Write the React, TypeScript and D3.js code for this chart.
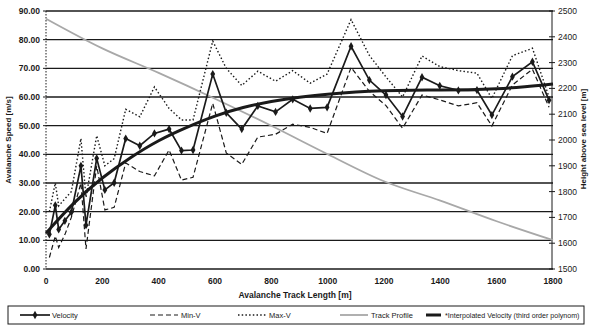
import React from 'react'
import * as d3 from 'd3'

const TRACK = [12, 33, 45, 67, 90, 124, 142, 180, 209, 242, 283, 333, 385, 437, 481, 522, 592, 640, 695, 752, 815, 876, 938, 998, 1083, 1148, 1207, 1266, 1335, 1398, 1464, 1530, 1583, 1656, 1727, 1786]
const VELOCITY = [12.1, 22.2, 13.8, 16.8, 19.8, 36.0, 15.3, 38.6, 27.6, 30.1, 45.5, 43.0, 47.3, 48.8, 41.3, 41.5, 68.0, 54.5, 48.8, 56.9, 54.8, 59.2, 56.0, 56.4, 77.7, 65.9, 60.7, 53.2, 66.9, 63.9, 62.3, 62.4, 53.7, 67.1, 72.3, 58.9]
const MIN_V = [4, 11.5, 7.5, 12, 18, 30, 7, 36, 20.6, 21.5, 37, 34, 32.5, 41.5, 31, 32, 57.8, 40.5, 36.5, 46, 47, 50.5, 49.4, 47.3, 70.3, 62, 57, 49.1, 60.7, 59, 56.9, 58, 49.9, 64.2, 69.7, 56.4]
const MAX_V = [20, 30, 22, 24.5, 27, 45.5, 25, 46.5, 36, 38.5, 55.7, 53.1, 63.5, 56, 52, 52, 79.5, 70, 64, 69, 65.5, 69.2, 64.8, 68, 87, 74.5, 67, 60, 74.3, 70.6, 69.2, 68.3, 59.5, 74.4, 77, 60]

const PROFILE_T = [0, 200, 400, 600, 800, 1000, 1200, 1400, 1600, 1800]
const PROFILE_H = [2470, 2355, 2260, 2160, 2055, 1945, 1840, 1765, 1685, 1612]

const POLY_T = [0, 100, 200, 300, 400, 500, 600, 700, 800, 900, 1000, 1100, 1200, 1300, 1400, 1500, 1600, 1700, 1800]
const POLY_V = [12.5, 23.5, 32, 39, 45, 49.5, 53.5, 56.5, 58.5, 60, 61, 61.8, 62.2, 62.4, 62.4, 62.5, 62.8, 63.5, 64.5]

const X_TICKS = [0, 200, 400, 600, 800, 1000, 1200, 1400, 1600, 1800]
const V_TICKS = [0, 10, 20, 30, 40, 50, 60, 70, 80, 90]
const H_TICKS = [1500, 1600, 1700, 1800, 1900, 2000, 2100, 2200, 2300, 2400, 2500]

const font = "'Liberation Sans', Arial, sans-serif"
const ink = '#1a1a1a'

export default function App() {
  const W = 590
  const H = 328
  const x = d3.scaleLinear().domain([0, 1800]).range([46, 553])
  const y = d3.scaleLinear().domain([0, 90]).range([269, 11])
  const yH = d3.scaleLinear().domain([1500, 2500]).range([269, 11])

  const idx = d3.range(TRACK.length)
  const velPath = d3.line<number>().x((i) => x(TRACK[i])).y((i) => y(VELOCITY[i]))(idx)
  const minPath = d3.line<number>().x((i) => x(TRACK[i])).y((i) => y(MIN_V[i]))(idx)
  const maxPath = d3.line<number>().x((i) => x(TRACK[i])).y((i) => y(MAX_V[i]))(idx)
  const profPath = d3.line<number>().x((i) => x(PROFILE_T[i])).y((i) => yH(PROFILE_H[i])).curve(d3.curveMonotoneX)(d3.range(PROFILE_T.length))
  const polyPath = d3.line<number>().x((i) => x(POLY_T[i])).y((i) => y(POLY_V[i])).curve(d3.curveBasis)(d3.range(POLY_T.length))
  const diamond = d3.symbol(d3.symbolDiamond, 20)()
  const fmt = d3.format('.2f')

  const legY = 315
  const lf = 7.5
  return (
    <svg width={W} height={H} style={{ position: 'fixed', left: 0, top: 0, background: '#fff' }} fontFamily={font}>
      {/* grid */}
      {V_TICKS.map((t) => (
        <line key={t} x1={46} x2={553} y1={y(t)} y2={y(t)} stroke={ink} strokeWidth={1.4} />
      ))}
      {/* left axis */}
      <line x1={46} x2={46} y1={11} y2={269} stroke={ink} strokeWidth={1} strokeDasharray="1.5,1.5" />
      {V_TICKS.map((t) => (
        <g key={t}>
          <line x1={43} x2={46} y1={y(t)} y2={y(t)} stroke={ink} />
          <text x={40} y={y(t) + 3} textAnchor="end" fontSize={8.5} fontWeight="bold" fill={ink}>{fmt(t)}</text>
        </g>
      ))}
      {/* right axis */}
      <line x1={552} x2={552} y1={11} y2={269} stroke={ink} strokeWidth={1} />
      {H_TICKS.map((t) => (
        <g key={t}>
          <line x1={549} x2={555} y1={yH(t)} y2={yH(t)} stroke={ink} />
          <text x={558} y={yH(t) + 3} fontSize={8.5} fill={ink}>{t}</text>
        </g>
      ))}
      {/* bottom ticks */}
      {X_TICKS.map((t) => (
        <text key={t} x={x(t)} y={284} textAnchor="middle" fontSize={8.5} fontWeight="bold" fill={ink}>{t}</text>
      ))}
      <text x={295} y={298} textAnchor="middle" fontSize={8.5} fontWeight="bold" fill={ink}>Avalanche Track Length [m]</text>
      <text transform="translate(11,140) rotate(-90)" textAnchor="middle" fontSize={8} fontWeight="bold" fill={ink}>Avalanche Speed [m/s]</text>
      <text transform="translate(586,139) rotate(-90)" textAnchor="middle" fontSize={8} fontWeight="bold" fill={ink}>Height above sea level [m]</text>

      {/* series */}
      <path d={profPath ?? ''} fill="none" stroke="#a8a8a8" strokeWidth={1.8} />
      <path d={maxPath ?? ''} fill="none" stroke={ink} strokeWidth={1.4} strokeDasharray="1.5,2.2" />
      <path d={minPath ?? ''} fill="none" stroke={ink} strokeWidth={1.2} strokeDasharray="5,3" />
      <path d={polyPath ?? ''} fill="none" stroke={ink} strokeWidth={3} />
      <path d={velPath ?? ''} fill="none" stroke={ink} strokeWidth={1.7} />
      {idx.map((i) => (
        <path key={i} d={diamond ?? ''} transform={`translate(${x(TRACK[i])},${y(VELOCITY[i])})`} fill={ink} />
      ))}

      {/* legend */}
      <rect x={8} y={306} width={576} height={18} fill="none" stroke={ink} strokeWidth={1} />
      <line x1={20} x2={50} y1={legY} y2={legY} stroke={ink} strokeWidth={1.7} />
      <path d={diamond ?? ''} transform={`translate(35,${legY})`} fill={ink} />
      <text x={52} y={legY + 3} fontSize={lf} fill={ink}>Velocity</text>
      <line x1={150} x2={178} y1={legY} y2={legY} stroke={ink} strokeWidth={1.2} strokeDasharray="5,3" />
      <text x={181} y={legY + 3} fontSize={lf} fill={ink}>Min-V</text>
      <line x1={238} x2={266} y1={legY} y2={legY} stroke={ink} strokeWidth={1.4} strokeDasharray="1.5,2.2" />
      <text x={269} y={legY + 3} fontSize={lf} fill={ink}>Max-V</text>
      <line x1={340} x2={368} y1={legY} y2={legY} stroke="#a8a8a8" strokeWidth={1.8} />
      <text x={371} y={legY + 3} fontSize={lf} fill={ink}>Track Profile</text>
      <line x1={426} x2={441} y1={legY} y2={legY} stroke={ink} strokeWidth={3} />
      <text x={445} y={legY + 3} fontSize={7.1} fill={ink}>*Interpolated Velocity (third order polynom)</text>
    </svg>
  )
}
